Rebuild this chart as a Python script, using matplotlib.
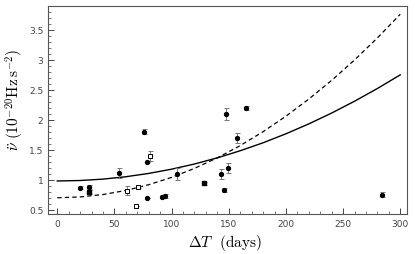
import numpy as np
import matplotlib
matplotlib.use("Agg")
import matplotlib.pyplot as plt
from matplotlib.ticker import MultipleLocator

plt.rcParams["mathtext.fontset"] = "cm"

# fitted curves, every 20 days
curve_x = [0, 20, 40, 60, 80, 100, 120, 140, 160, 180, 200, 220, 240, 260, 280, 300]
solid_y = [0.980, 0.988, 1.011, 1.051, 1.106, 1.177, 1.263, 1.366, 1.484, 1.617,
           1.767, 1.932, 2.113, 2.310, 2.522, 2.750]
dashed_y = [0.700, 0.714, 0.754, 0.822, 0.918, 1.040, 1.190, 1.366, 1.570, 1.802,
            2.060, 2.346, 2.658, 2.998, 3.366, 3.760]

# filled circles
circ_x = [19.5, 28, 54, 76, 92, 94.5, 105, 143, 146, 149, 148, 157, 165, 284, 78.5, 78.5]
circ_y = [0.87, 0.88, 1.11, 1.80, 0.72, 0.73, 1.10, 1.10, 0.83, 1.20, 2.10, 1.70, 2.20, 0.75, 1.30, 0.70]
circ_err = [0.03, 0.04, 0.08, 0.04, 0.03, 0.04, 0.10, 0.08, 0.04, 0.08, 0.10, 0.08, 0.03, 0.04, 0.0, 0.0]

# filled squares
sq_x = [28, 128]
sq_y = [0.80, 0.94]
sq_err = [0.03, 0.03]

# open squares
osq_x = [61, 70.6, 68.8, 81]
osq_y = [0.82, 0.88, 0.56, 1.40]
osq_err = [0.07, 0.01, 0.0, 0.08]

fig = plt.figure(figsize=(4.15, 2.55), dpi=100)
ax = fig.add_axes([0.116, 0.157, 0.865, 0.816])

ax.plot(curve_x, solid_y, color="black", linewidth=1.0)
ax.plot(curve_x, dashed_y, color="black", linewidth=0.9, linestyle=(0, (3.5, 2.5)))

err_kw = dict(ecolor="#777777", elinewidth=0.7, capsize=1.8, capthick=0.7, linestyle="none")
ax.errorbar(circ_x, circ_y, yerr=circ_err, fmt="o", color="black", markersize=2.8, **err_kw)
ax.errorbar(sq_x, sq_y, yerr=sq_err, fmt="s", color="black", markersize=2.8, **err_kw)
ax.errorbar(osq_x, osq_y, yerr=osq_err, fmt="s", color="black", markerfacecolor="white",
            markeredgewidth=0.7, markersize=3.2, **err_kw)

ax.set_xlim(-8, 306)
ax.set_ylim(0.43, 3.9)
ax.xaxis.set_major_locator(MultipleLocator(50))
ax.xaxis.set_minor_locator(MultipleLocator(10))
ax.yaxis.set_minor_locator(MultipleLocator(0.1))
ax.set_yticks([0.5, 1, 1.5, 2, 2.5, 3, 3.5])
ax.set_yticklabels(["0.5", "1", "1.5", "2", "2.5", "3", "3.5"])
ax.tick_params(which="both", direction="in", top=False, right=False,
               labelsize=6.5, labelcolor="#444444", color="#444444")
ax.tick_params(which="major", length=4, width=0.7)
ax.tick_params(which="minor", length=2, width=0.5)
for s in ax.spines.values():
    s.set_color("#555555")
    s.set_linewidth(0.8)

fig.text(225 / 415, 1 - 243 / 255, r"$\Delta T$  $\mathrm{(days)}$", fontsize=11,
         ha="center", va="center")
fig.text(15 / 415, 1 - 100 / 255, r"$\ddot{\nu}\ (10^{-20}\mathrm{Hz\,s^{-2}})$", fontsize=11,
         ha="center", va="center", rotation=90)

fig.savefig("out.png", dpi=100)
